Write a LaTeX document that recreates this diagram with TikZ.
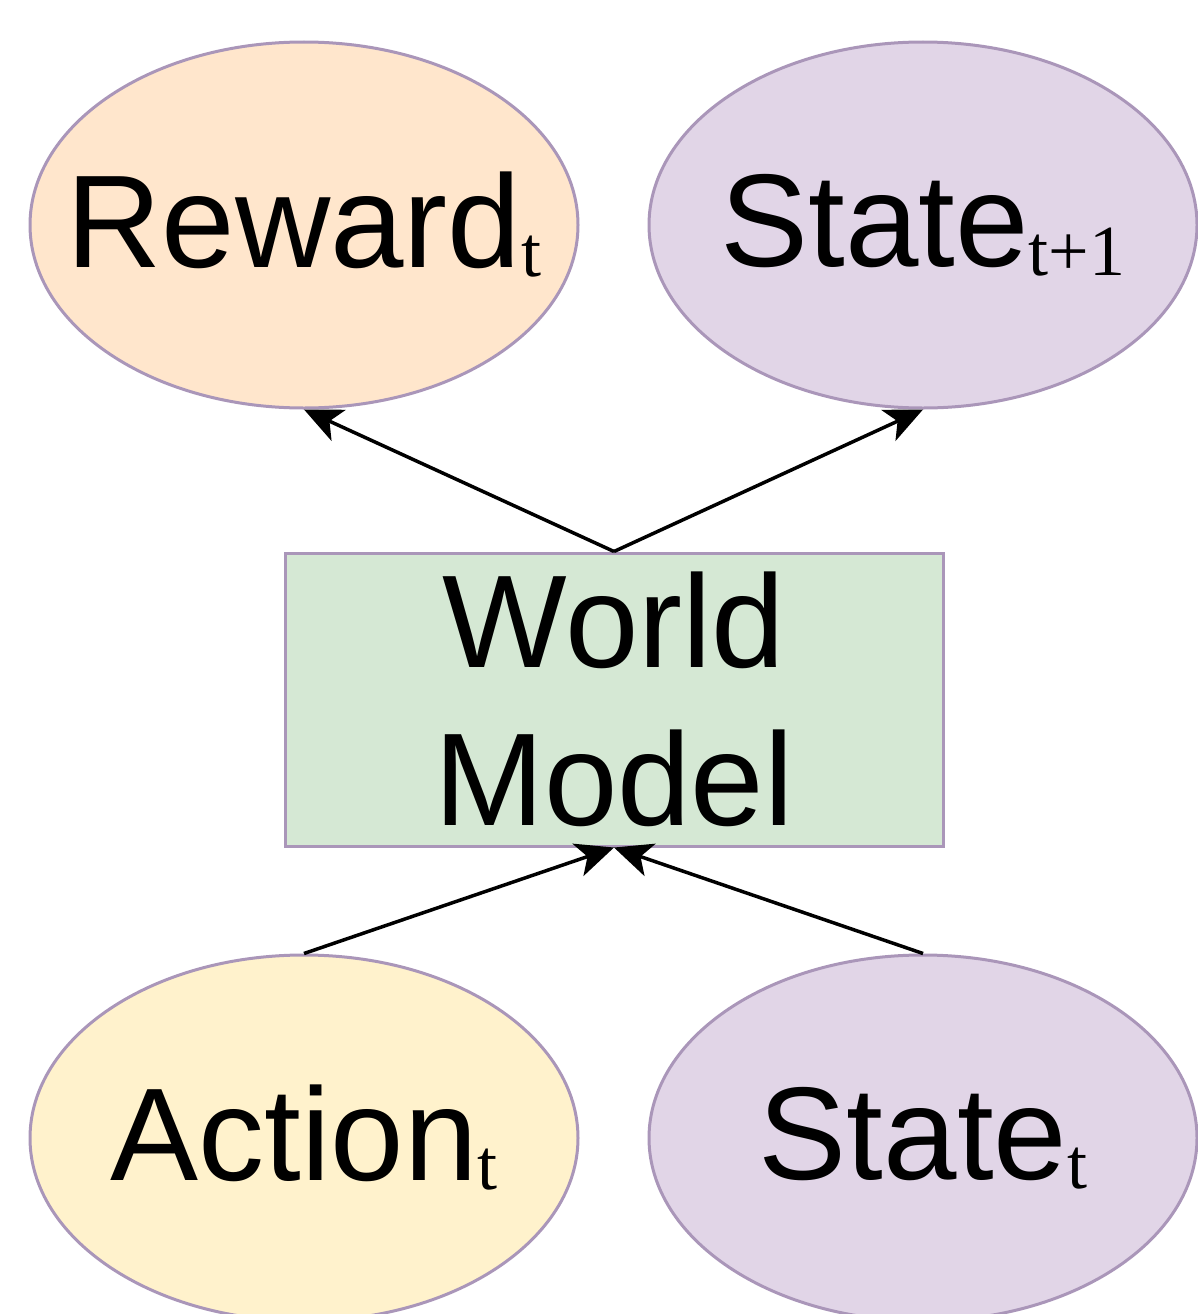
\documentclass[tikz,border=0pt]{standalone}
\usepackage{fontspec}
\setmainfont{Liberation Sans}
\newfontfamily\subserif{Liberation Serif}
\usetikzlibrary{shapes.geometric,arrows.meta}

\definecolor{edgecol}{RGB}{170,150,185}
\definecolor{rewfill}{RGB}{255,230,204}
\definecolor{statefill}{RGB}{225,213,231}
\definecolor{actfill}{RGB}{255,242,204}
\definecolor{wmfill}{RGB}{213,232,212}

% lowered serif index after a label
\newcommand{\lowsub}[1]{\raisebox{-9pt}{\fontsize{72}{72}\selectfont\subserif #1}}

\begin{document}
\begin{tikzpicture}[x=1pt, y=-1pt, font=\fontsize{132}{158}\selectfont,
    blob/.style={ellipse, draw=edgecol, line width=3pt, minimum width=548pt, minimum height=366pt, inner sep=0pt},
    flow/.style={line width=3.5pt, -{Stealth[length=38pt,width=34pt,inset=10pt]}}]
  \useasboundingbox (0,0) rectangle (1197,1314);

  \node[blob, fill=rewfill] (rew) at (304,225) {\makebox[0pt]{Reward\lowsub{t}}};
  \node[blob, fill=statefill] (next) at (923,225) {\makebox[0pt]{State\lowsub{t+1}}};
  \node[draw=edgecol, line width=3pt, fill=wmfill, minimum width=658pt, minimum height=293pt,
        inner sep=0pt, align=center] (wm) at (614,699.5) {World\\Model};
  \node[blob, fill=actfill] (act) at (304,1138) {\makebox[0pt]{Action\lowsub{t}}};
  \node[blob, fill=statefill] (cur) at (923,1138) {\makebox[0pt]{State\lowsub{t}}};

  \draw[flow] (wm.north) -- (rew.south);
  \draw[flow] (wm.north) -- (next.south);
  \draw[flow] (act.north) -- (wm.south);
  \draw[flow] (cur.north) -- (wm.south);
\end{tikzpicture}
\end{document}
